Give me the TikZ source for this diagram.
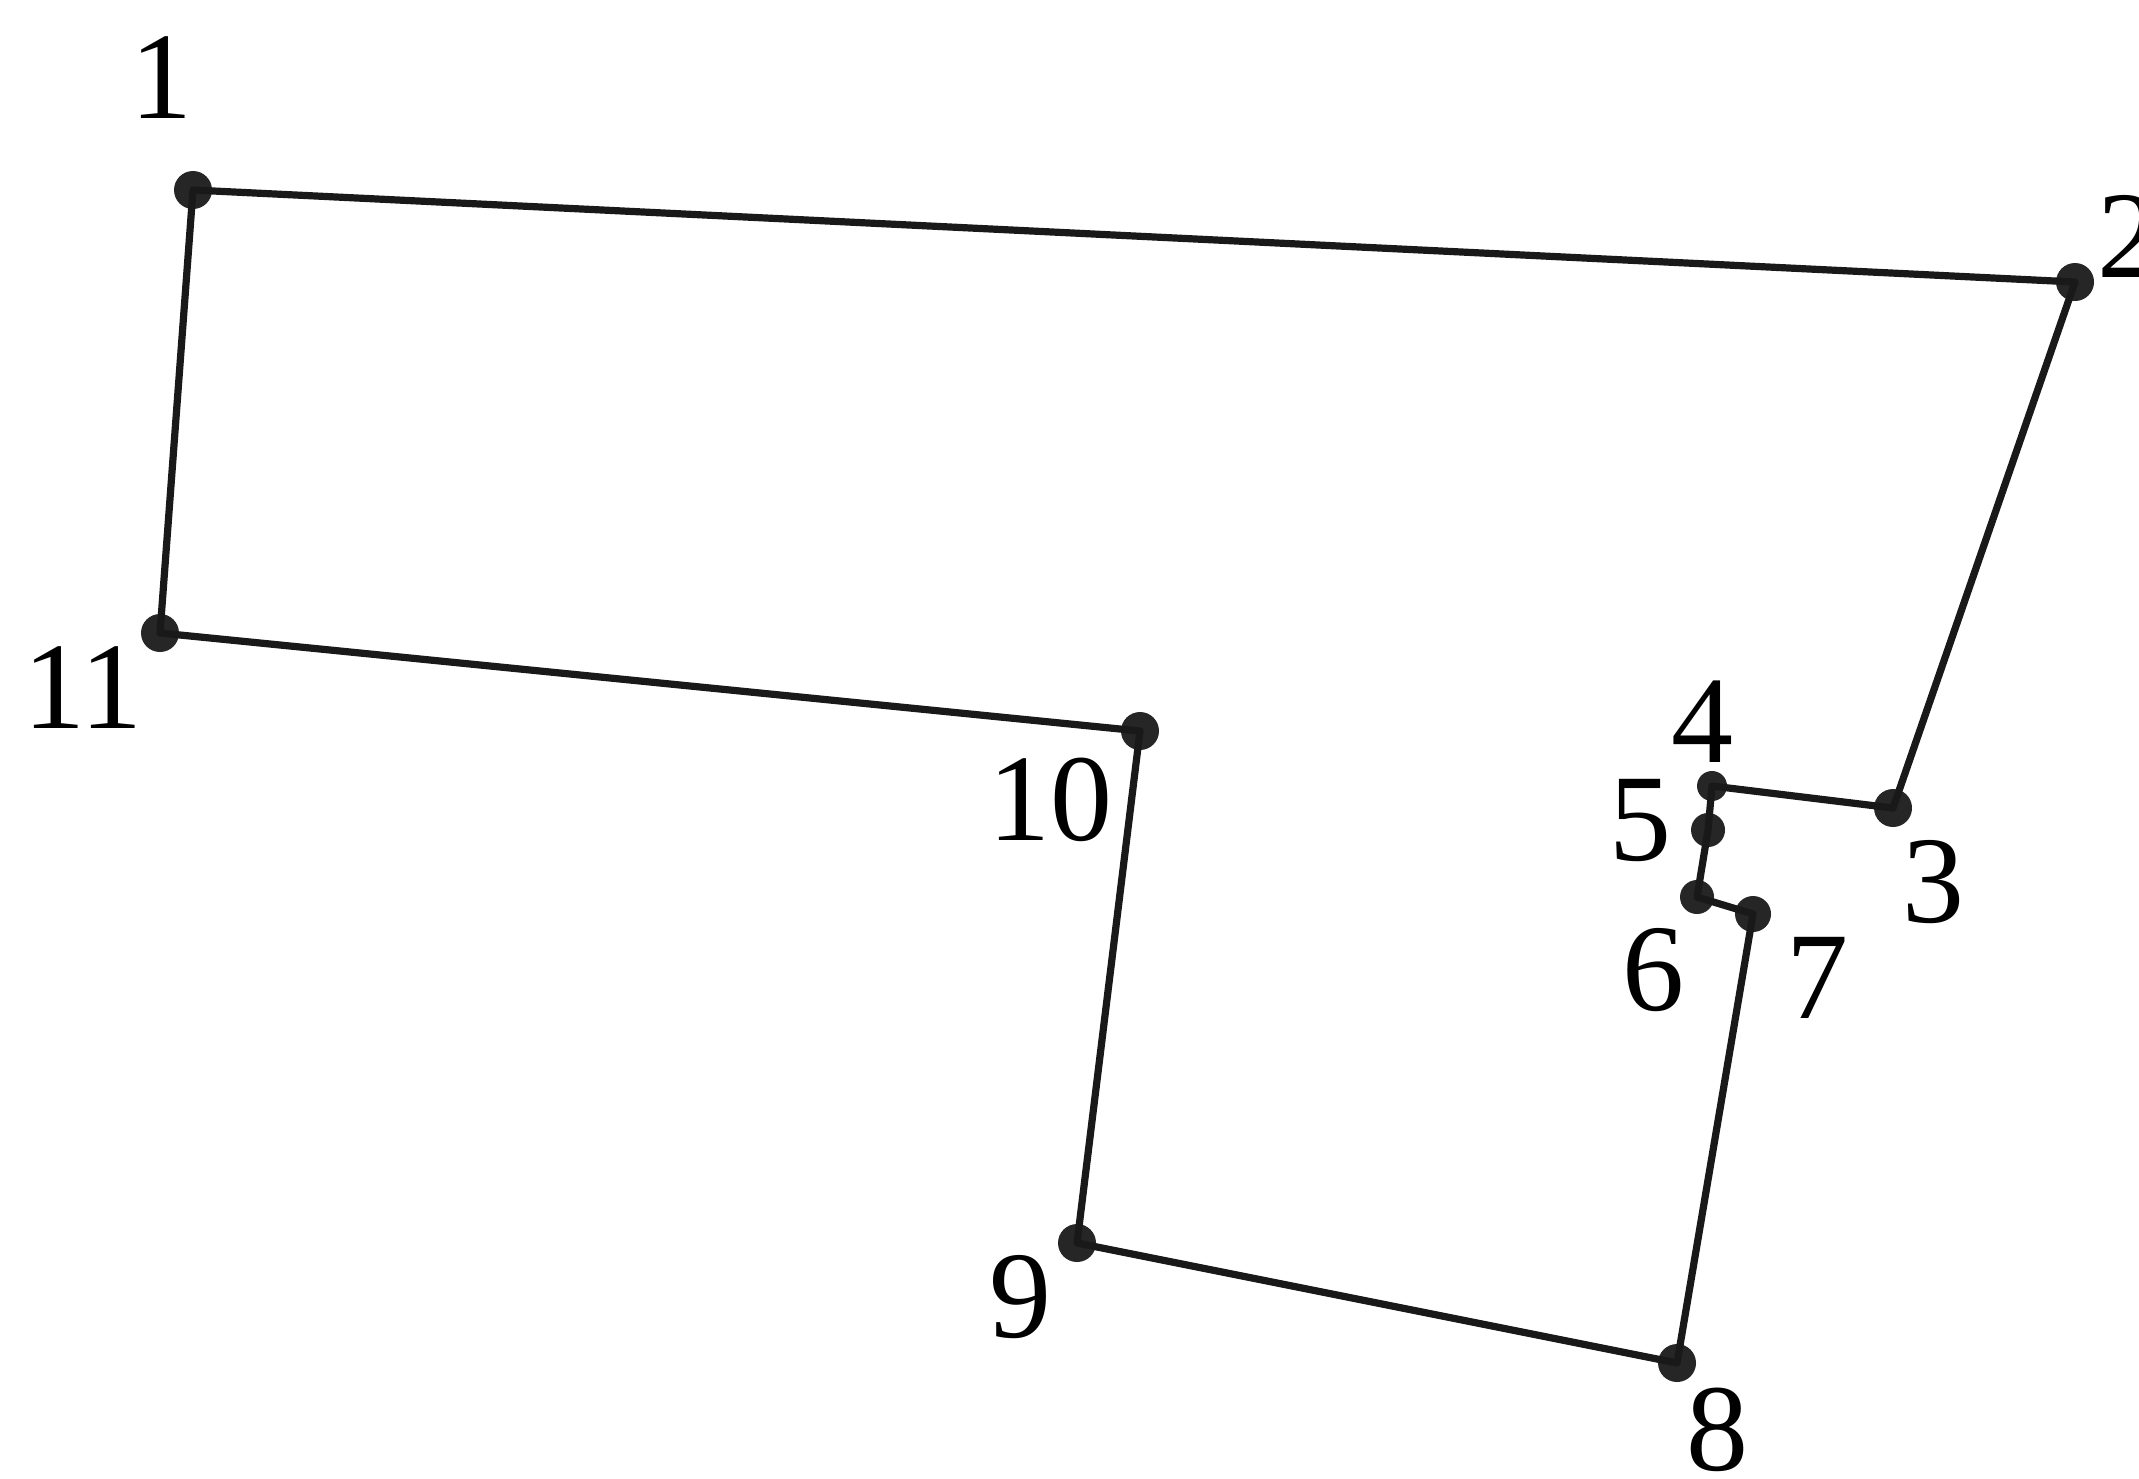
\documentclass[tikz,border=0pt]{standalone}
\usepackage{fontspec}
\setmainfont{Liberation Serif}
\begin{document}
\begin{tikzpicture}[x=0.5pt,y=-0.5pt,
  pt/.style={circle,fill=black!85,inner sep=0pt,minimum size=19pt},
  lbl/.style={inner sep=0pt,font=\fontsize{62}{70}\selectfont},
  edge/.style={line width=3.6pt,black!90,line join=round}]
\clip (0,0) rectangle (2139,1478);
\useasboundingbox (0,0) rectangle (2139,1478);
\fill[white] (0,0) rectangle (2139,1478);
\node[pt] (p1) at (193,190) {};
\node[pt] (p2) at (2075,282) {};
\node[pt] (p3) at (1893,808) {};
\node[pt,minimum size=15pt] (p4) at (1712,786) {};
\node[pt,minimum size=17pt] (p5) at (1708,830) {};
\node[pt,minimum size=17pt] (p6) at (1697,897) {};
\node[pt,minimum size=18pt] (p7) at (1753,914) {};
\node[pt] (p8) at (1677,1363) {};
\node[pt] (p9) at (1077,1243) {};
\node[pt] (p10) at (1140,731) {};
\node[pt] (p11) at (160,633) {};
\draw[edge] (p1.center) -- (p2.center) -- (p3.center) -- (p4.center) -- (p5.center) -- (p6.center) -- (p7.center) -- (p8.center) -- (p9.center) -- (p10.center) -- (p11.center) -- cycle;
\node[lbl] (l1) at (161,78) {1};
\node[lbl] (l2) at (2128,236) {2};
\node[lbl] (l3) at (1933,882) {3};
\node[lbl] (l4) at (1702,722) {4};
\node[lbl] (l5) at (1640,820) {5};
\node[lbl] (l6) at (1653,970) {6};
\node[lbl] (l7) at (1817,978) {7};
\node[lbl] (l8) at (1717,1430) {8};
\node[lbl] (l9) at (1020,1297) {9};
\node[lbl] (l10) at (1050,800) {10};
\node[lbl] (l11) at (83,688) {11};
\end{tikzpicture}
\end{document}
